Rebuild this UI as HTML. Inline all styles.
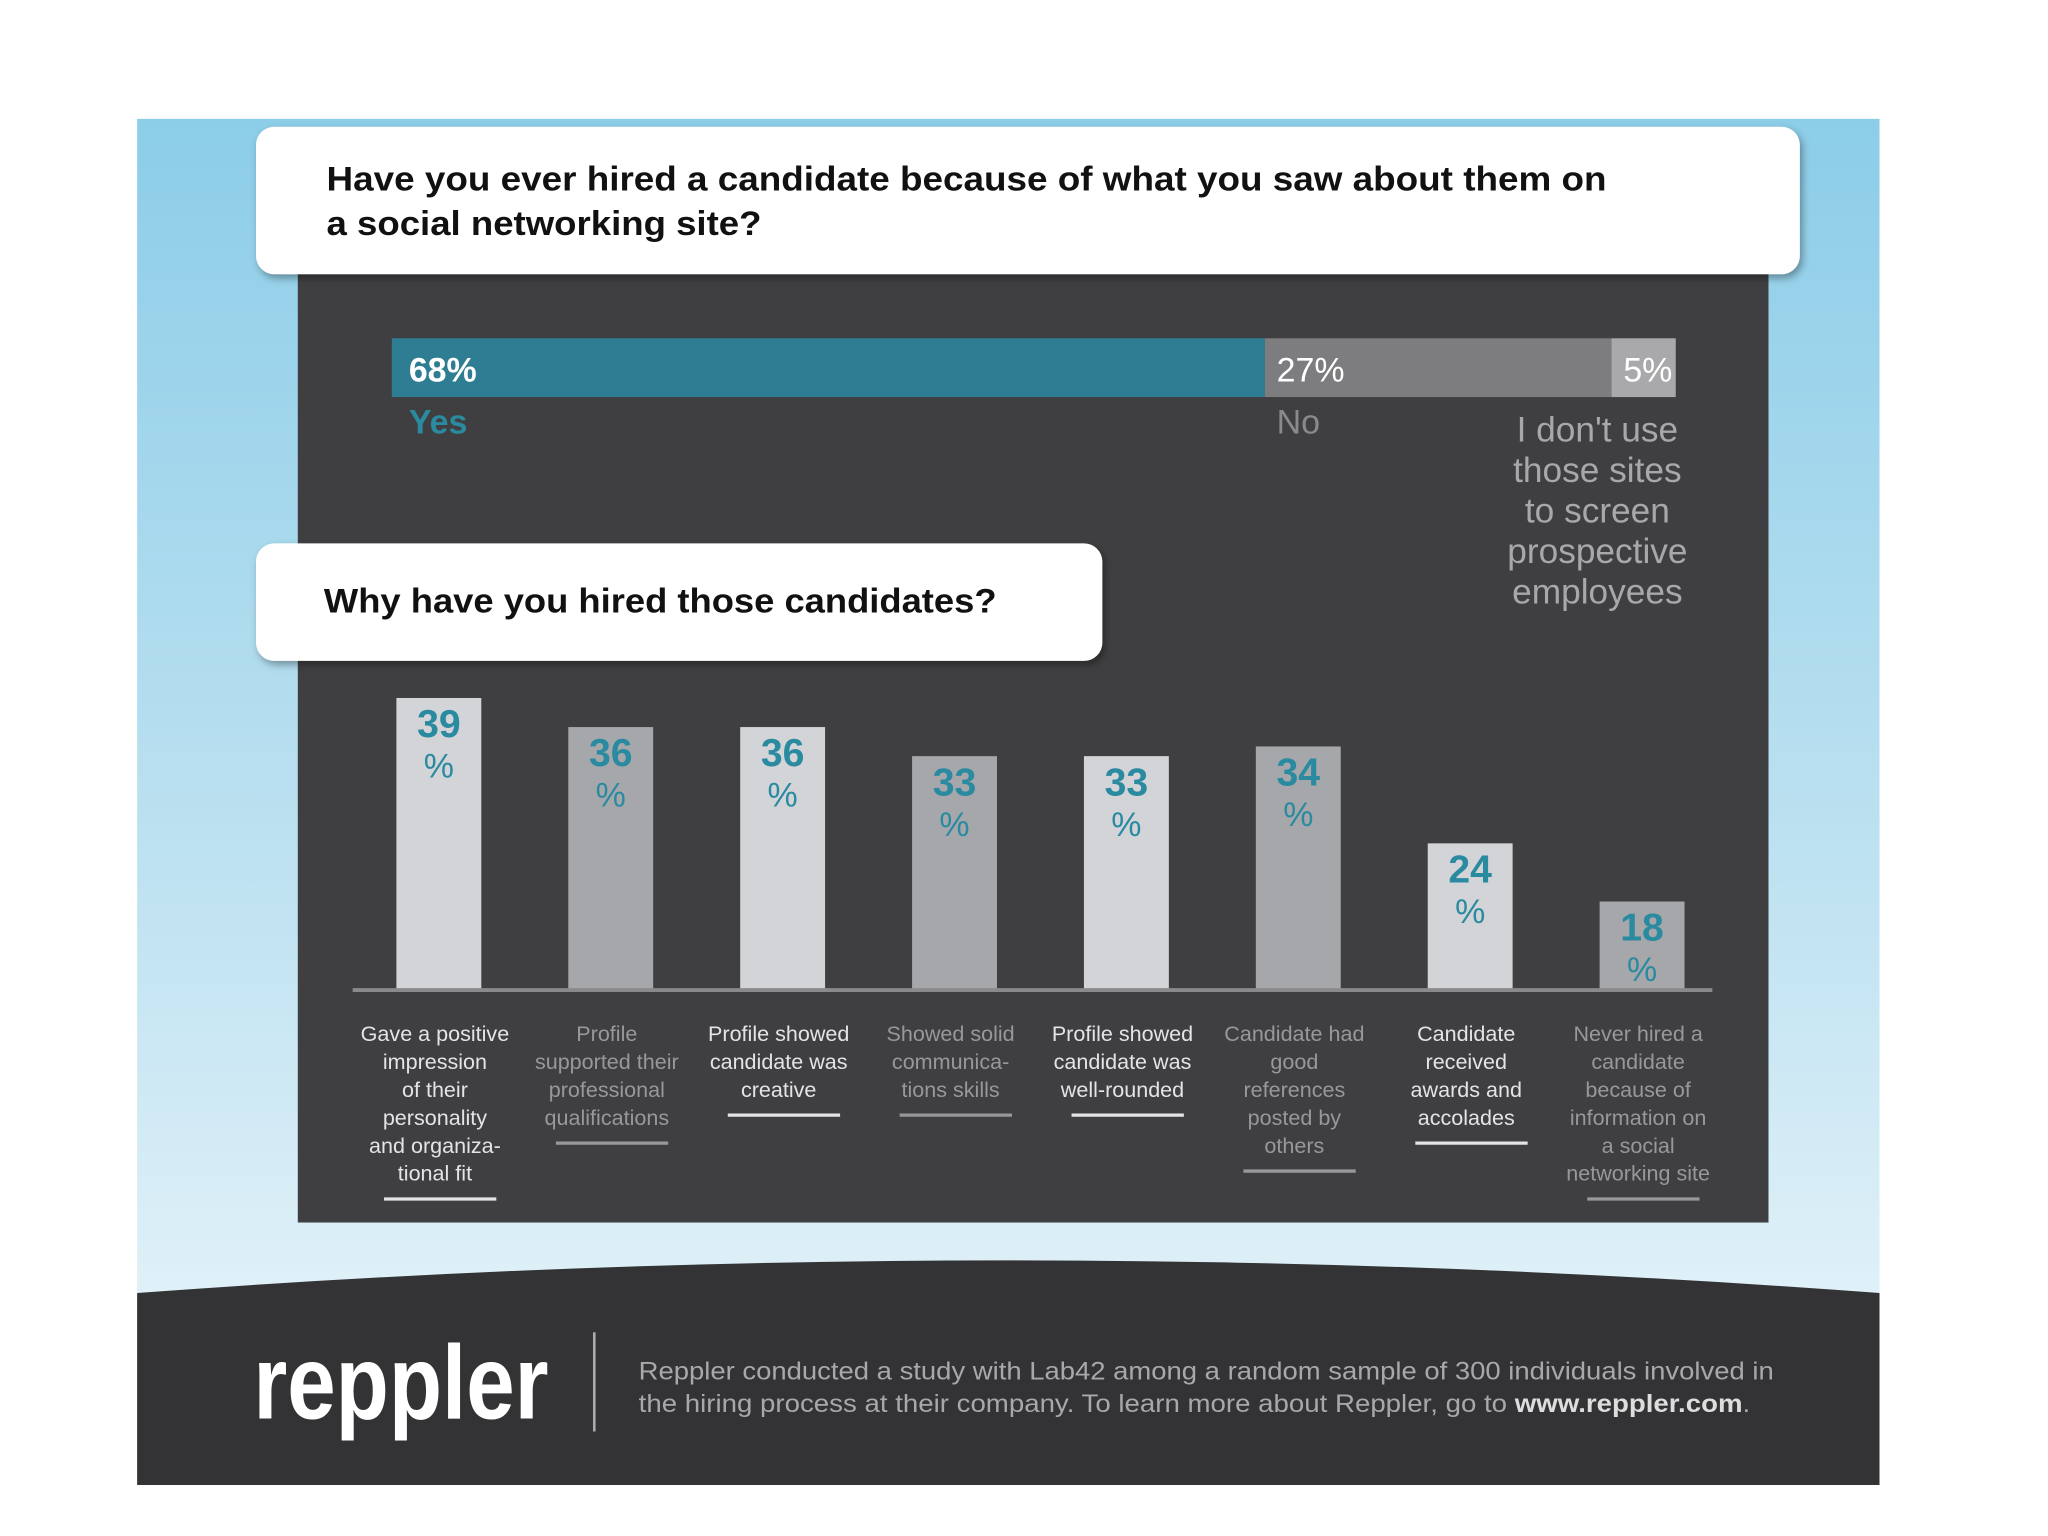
<!DOCTYPE html>
<html><head><meta charset="utf-8"><style>
html,body{margin:0;padding:0;background:#fff;}
svg{display:block;font-family:"Liberation Sans",sans-serif;}
</style></head><body>
<svg id="chart" width="2048" height="1536" viewBox="0 0 1568 1176" xmlns="http://www.w3.org/2000/svg">
<defs>
<linearGradient id="sky" x1="0" y1="0" x2="0" y2="1">
<stop offset="0" stop-color="#8ccde8"/><stop offset="0.6" stop-color="#c3e4f2"/><stop offset="1" stop-color="#eef7fb"/>
</linearGradient>
<filter id="sh" x="-5%" y="-20%" width="110%" height="150%"><feDropShadow dx="2" dy="3" stdDeviation="3" flood-color="#000" flood-opacity="0.35"/></filter>
</defs>
<rect x="105" y="91" width="1334" height="1046" fill="url(#sky)"/>
<rect x="228" y="200" width="1126" height="736" fill="#3f3f41"/>
<path d="M105 990 Q772 940 1439 990 L1439 1137 L105 1137 Z" fill="#333335"/>
<rect x="196" y="97" width="1182" height="113" rx="14" fill="#fff" filter="url(#sh)"/>
<text x="250" y="146" font-size="26" font-weight="bold" fill="#111" textLength="980" lengthAdjust="spacingAndGlyphs">Have you ever hired a candidate because of what you saw about them on</text>
<text x="250" y="180" font-size="26" font-weight="bold" fill="#111" textLength="333" lengthAdjust="spacingAndGlyphs">a social networking site?</text>
<g id="stack"></g>
<g font-size="27" fill="#a8a8aa" text-anchor="middle">
<text x="1223" y="338">I don't use</text><text x="1223" y="369">those sites</text><text x="1223" y="400">to screen</text><text x="1223" y="431">prospective</text><text x="1223" y="462">employees</text>
</g>
<rect x="196" y="416" width="648" height="90" rx="14" fill="#fff" filter="url(#sh)"/>
<text x="248" y="469" font-size="26" font-weight="bold" fill="#111" textLength="515" lengthAdjust="spacingAndGlyphs">Why have you hired those candidates?</text>
<g id="bars"></g>
<line x1="270" y1="758" x2="1311" y2="758" stroke="#8a8a8c" stroke-width="3"/>
<g id="cats"></g>
<text x="194" y="1086" font-size="80" font-weight="bold" fill="#fff" textLength="226" lengthAdjust="spacingAndGlyphs">reppler</text>
<line x1="455" y1="1020" x2="455" y2="1096" stroke="#aaa" stroke-width="2"/>
<text x="489" y="1056" font-size="19" fill="#a8a8aa" textLength="869" lengthAdjust="spacingAndGlyphs">Reppler conducted a study with Lab42 among a random sample of 300 individuals involved in</text>
<text x="489" y="1081" font-size="19" fill="#a8a8aa" textLength="851" lengthAdjust="spacingAndGlyphs">the hiring process at their company. To learn more about Reppler, go to <tspan font-weight="bold" fill="#ddd">www.reppler.com</tspan>.</text>
</svg>
<script>
const stackLabels = ["68%", "27%", "5%"];
const stackValues = [68, 27, 5];
const stackNames = ["Yes", "No", ""];
const reasonValues = [39, 36, 36, 33, 33, 34, 24, 18];
const reasonCats = [
 ["Gave a positive","impression","of their","personality","and organiza-","tional fit"],
 ["Profile","supported their","professional","qualifications"],
 ["Profile showed","candidate was","creative"],
 ["Showed solid","communica-","tions skills"],
 ["Profile showed","candidate was","well-rounded"],
 ["Candidate had","good","references","posted by","others"],
 ["Candidate","received","awards and","accolades"],
 ["Never hired a","candidate","because of","information on","a social","networking site"]
];
const NS = "http://www.w3.org/2000/svg";
function mk(tag, attrs, parent){const e=document.createElementNS(NS,tag);for(const k in attrs)e.setAttribute(k,attrs[k]);parent.appendChild(e);return e;}
const sx0=300, sx1=1283;
const total=stackValues.reduce((a,b)=>a+b,0);
function sx(v){return sx0+(sx1-sx0)*v/total;}
const stackColors=["#2e7d92","#7d7d80","#a9a9ac"];
const nameColors=["#2a8aa0","#8a8a8c",""];
const sg=document.getElementById("stack");
let acc=0;
stackValues.forEach((v,i)=>{
 const x=sx(acc), w=sx(acc+v)-x;
 const r=mk("rect",{x:x,y:259,width:w,height:45,fill:stackColors[i]},sg);
 
 
 const t=mk("text",{x:x+(i==0?13:9),y:292,"font-size":26,"font-weight":i==0?"bold":"normal",fill:"#fff"},sg);
 t.textContent=stackLabels[i];
 
 
 if(stackNames[i]){
  const n=mk("text",{x:x+(i==0?13:9),y:332,"font-size":26,"font-weight":i==0?"bold":"normal",fill:nameColors[i]},sg);
  n.textContent=stackNames[i];
  
  
 }
 acc+=v;
});
const base=757, bw=65, x0=336, step=131.6;
function bx(i){return x0+i*step;}
function bh(v){return (v-9)*7.42;}
const bg=document.getElementById("bars"), cg=document.getElementById("cats");
reasonValues.forEach((v,i)=>{
 const cx=bx(i), h=bh(v), top=base-h;
 const light=i%2==0;
 const r=mk("rect",{x:cx-bw/2,y:top,width:bw,height:h,fill:light?"#d3d4d8":"#a6a7ab"},bg);
 
 
 const t=mk("text",{x:cx,y:top+30,"font-size":30,"font-weight":"bold",fill:"#2a8aa0","text-anchor":"middle"},bg);
 t.textContent=v;
 
 
 const p=mk("text",{x:cx,y:top+61,"font-size":26,fill:"#2a8aa0","text-anchor":"middle"},bg);
 p.textContent="%";
 
 
 const col=light?"#e4e4e6":"#98989b";
 const lines=reasonCats[i];
 lines.forEach((s,j)=>{
  const l=mk("text",{x:cx-3,y:797+j*21.4,"font-size":16.5,fill:col,"text-anchor":"middle"},cg);
  l.textContent=s;
  
  
 });
 const uy=797+(lines.length-1)*21.4+14;
 const u=mk("line",{x1:cx-42,x2:cx+44,y1:uy,y2:uy,stroke:col,"stroke-width":2.5},cg);
 
 
});
</script>
</body></html>
